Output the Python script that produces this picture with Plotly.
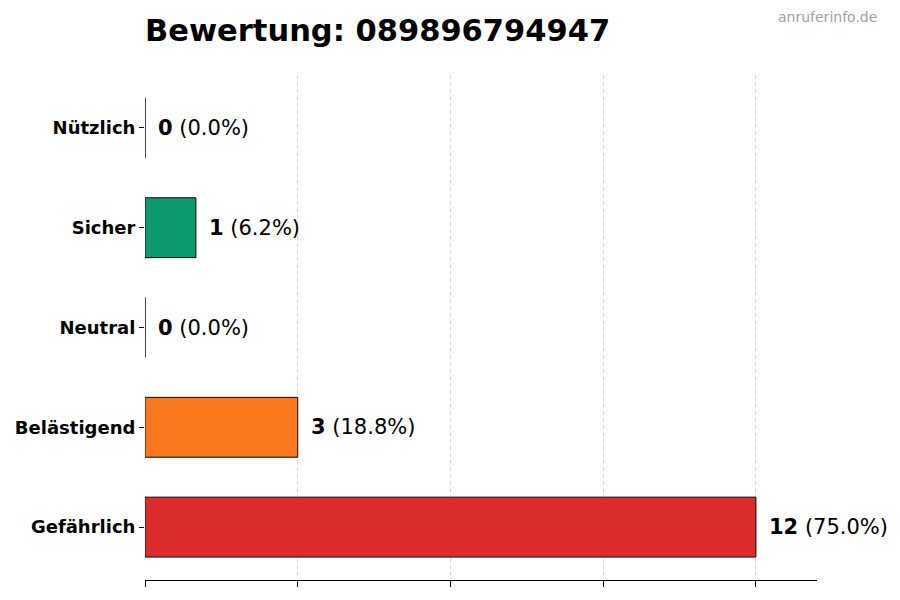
import plotly.graph_objects as go

categories = ["Gefährlich", "Belästigend", "Neutral", "Sicher", "Nützlich"]
counts = [12, 3, 0, 1, 0]
colors = ["#dc2626", "#f97316", "#6b7280", "#059669", "#10b981"]
x_ticks = [0, 3, 6, 9, 12]
phone = "089896794947"

total = sum(counts)
labels = [f"<b>{c}</b> ({c / total * 100:.1f}%)" for c in counts]

fig = go.Figure()
fig.add_trace(go.Bar(
    y=categories,
    x=counts,
    orientation="h",
    width=0.6,
    marker=dict(color=colors, line=dict(color="black", width=1)),
    opacity=0.97,
    showlegend=False,
))

for cat, c, lab in zip(categories, counts, labels):
    fig.add_annotation(
        x=c, y=cat, text=lab, showarrow=False,
        xanchor="left", yanchor="middle", xshift=11,
        font=dict(family="DejaVu Sans", size=21, color="black"),
    )

fig.add_annotation(
    text="anruferinfo.de", xref="paper", yref="paper",
    x=1.093, y=1.115, xanchor="right", yanchor="middle", showarrow=False,
    font=dict(family="DejaVu Sans", size=14, color="#a0a0a0"),
)

fig.update_layout(
    width=900, height=600,
    margin=dict(l=137, r=91, t=67, b=28),
    plot_bgcolor="white", paper_bgcolor="white",
    title=dict(
        text=f"<b>Bewertung: {phone}</b>",
        x=137 / 900, xanchor="left", y=1 - 22 / 600, yanchor="middle",
        font=dict(family="DejaVu Sans", size=30.5, color="black"),
    ),
    bargap=0.4,
)
fig.update_xaxes(
    range=[0, 13.2], tickvals=x_ticks, showticklabels=False,
    ticks="outside", ticklen=6, tickcolor="black",
    showline=True, linecolor="black", linewidth=1,
    showgrid=True, gridcolor="#d9d9d9", griddash="4px,3px", gridwidth=1,
    zeroline=False, automargin=False,
)
fig.update_yaxes(
    range=[-0.53, 4.53], ticks="outside", ticklen=5, tickcolor="black",
    showline=False, showgrid=False, zeroline=False, automargin=False,
    tickfont=dict(family="DejaVu Sans", size=18, color="black"),
    ticklabelstandoff=0,
)
fig.update_yaxes(tickvals=categories, ticktext=[f"<b>{c}</b>" for c in categories])

fig.write_html("out.html")
